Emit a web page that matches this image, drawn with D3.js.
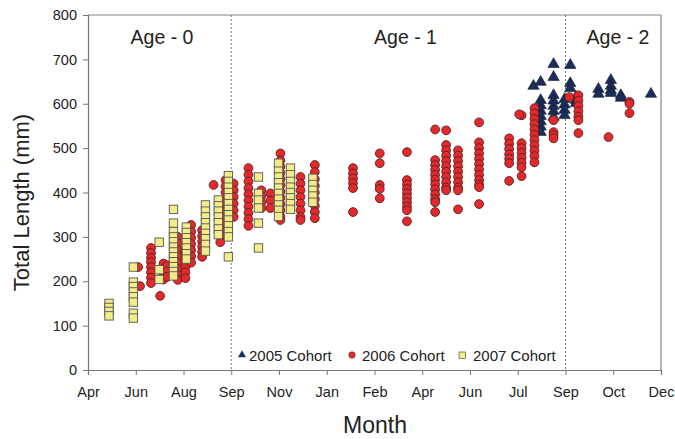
<!DOCTYPE html>
<html>
<head>
<meta charset="utf-8">
<script src="https://cdn.jsdelivr.net/npm/d3@7"></script>
<style>
  body { margin: 0; background: #fff; }
  svg text { font-family: "Liberation Sans", Arial, sans-serif; fill: #222; }
</style>
</head>
<body>
<svg id="chart" width="675" height="439"></svg>
<script>
// x is measured in tick steps from the first "Apr" tick
const monthLabels = ['Apr', 'Jun', 'Aug', 'Sep', 'Nov', 'Jan', 'Feb', 'Apr', 'Jun', 'Jul', 'Sep', 'Oct', 'Dec'];
const yTicks = [0, 100, 200, 300, 400, 500, 600, 700, 800];
const ageBreaks = [3, 10];
const ageLabels = [['Age - 0', 1.55], ['Age - 1', 6.65], ['Age - 2', 11.1]];

// [sample position, total lengths]
const cohort2005 = [
  [9.33, [640]],
  [9.48, [649, 608, 596, 584, 572, 560, 548, 536]],
  [9.75, [689, 660, 619, 607, 595, 583, 570]],
  [9.98, [610, 598, 586, 574]],
  [10.1, [687, 646, 635]],
  [10.22, [615, 608, 601]],
  [10.69, [633, 622]],
  [10.95, [653, 640, 630, 624]],
  [11.16, [619, 613]],
  [11.79, [622]]
];
const cohort2006 = [
  [1.05, [232]],
  [1.09, [189]],
  [1.32, [275, 264, 253, 243, 232, 220, 208, 196]],
  [1.51, [167]],
  [1.58, [240, 228, 216, 204]],
  [1.66, [236, 222, 210]],
  [1.88, [300, 285, 270, 256, 242, 228, 214, 203]],
  [2.04, [270, 258, 245, 232, 220, 207]],
  [2.16, [327, 312, 298, 284, 270, 256, 242]],
  [2.39, [315, 302, 290, 278, 266, 255]],
  [2.63, [417]],
  [2.77, [360, 345, 330, 316, 302, 288]],
  [2.88, [428, 414, 400, 386, 372, 358, 344, 331]],
  [3.05, [420, 405, 390, 375, 360, 345]],
  [3.36, [455, 440, 425, 410, 396, 382, 368, 354, 340, 325]],
  [3.63, [405, 392, 378, 365]],
  [3.82, [398, 382, 365]],
  [4.03, [488, 472, 458, 444, 430, 416, 402, 388, 374, 360, 346, 338]],
  [4.45, [435, 420, 405, 390, 375, 360, 345, 338]],
  [4.75, [462, 446, 430, 415, 400, 385, 370, 356, 342]],
  [5.55, [455, 443, 432, 421, 410, 356]],
  [6.11, [488, 466, 417, 408, 387]],
  [6.68, [491, 428, 418, 408, 398, 388, 378, 368, 360, 335]],
  [7.27, [542, 473, 462, 451, 440, 429, 418, 407, 396, 385, 378, 356]],
  [7.5, [540, 507, 495, 483, 471, 459, 447, 435, 423, 411, 405]],
  [7.75, [495, 483, 471, 459, 447, 435, 423, 411, 405, 362]],
  [8.19, [558, 513, 500, 488, 476, 464, 452, 440, 428, 418, 412, 374]],
  [8.82, [522, 510, 498, 486, 476, 466, 426]],
  [9.08, [574, 511, 500, 489, 478, 467, 457, 437]],
  [9.03, [576]],
  [9.35, [590, 578, 566, 554, 542, 530, 518, 506, 494, 482, 468]],
  [9.75, [563, 536, 529, 522]],
  [10.08, [615]],
  [10.27, [619, 607, 595, 583, 571, 563, 534]],
  [10.9, [525]],
  [11.34, [604, 600, 579]]
];
const cohort2007 = [
  [0.44, [150, 141, 132, 122]],
  [0.95, [232, 198, 188, 176, 165, 153, 128, 117]],
  [1.49, [288, 226, 204]],
  [1.79, [362, 331, 312, 300, 289, 277, 266, 255, 244, 233, 222, 212]],
  [2.06, [322, 310, 298, 287, 275, 262, 250]],
  [2.46, [372, 358, 345, 332, 320, 308, 296, 283, 268]],
  [2.73, [383, 370, 358, 345, 332, 318, 305]],
  [2.94, [438, 425, 412, 400, 388, 375, 362, 350, 338, 325, 312, 300, 255]],
  [3.57, [435, 398, 383, 365, 331, 275]],
  [3.99, [466, 448, 435, 422, 410, 398, 385, 372, 360, 346]],
  [4.24, [455, 440, 425, 412, 400, 388, 375, 362]],
  [4.71, [432, 418, 405, 392, 378]]
];

const margin = { top: 15, right: 14, bottom: 69, left: 88 };
const width = 675, height = 439;
const svg = d3.select('#chart');

const x = d3.scaleLinear().domain([0, 12]).range([margin.left, width - margin.right]);
const y = d3.scaleLinear().domain([0, 800]).range([height - margin.bottom, margin.top]);

const flat = groups => groups.flatMap(([t, lens]) => lens.map(v => ({ t, v })));

// frame
svg.append('line').attr('x1', x(0)).attr('x2', x(12)).attr('y1', y(800)).attr('y2', y(800))
  .attr('stroke', '#888').attr('stroke-width', 1.2);
svg.append('line').attr('x1', x(12)).attr('x2', x(12)).attr('y1', y(800)).attr('y2', y(0))
  .attr('stroke', '#888').attr('stroke-width', 1.2);

// age breaks
svg.selectAll('.brk').data(ageBreaks).enter().append('line')
  .attr('x1', d => x(d)).attr('x2', d => x(d)).attr('y1', y(800)).attr('y2', y(0))
  .attr('stroke', '#777').attr('stroke-width', 1).attr('stroke-dasharray', '2,2');

svg.selectAll('.age').data(ageLabels).enter().append('text')
  .attr('x', d => x(d[1])).attr('y', 44).attr('text-anchor', 'middle')
  .attr('font-size', 19.5).text(d => d[0]);

// axes
const xAxis = svg.append('g').attr('transform', `translate(0,${y(0)})`)
  .call(d3.axisBottom(x).tickValues(d3.range(13)).tickFormat(i => monthLabels[i]).tickSize(5).tickPadding(12));
const yAxis = svg.append('g').attr('transform', `translate(${x(0)},0)`)
  .call(d3.axisLeft(y).tickValues(yTicks).tickSize(5).tickPadding(6));
[xAxis, yAxis].forEach(a => {
  a.select('.domain').attr('stroke', '#777').attr('stroke-width', 1.2);
  a.selectAll('.tick line').attr('stroke', '#777');
  a.selectAll('.tick text').attr('font-size', 14.5).style('font-family', '"Liberation Sans", Arial, sans-serif').attr('fill', '#222');
});

svg.append('text').attr('transform', `translate(29,${(y(0) + y(800)) / 2 + 10}) rotate(-90)`)
  .attr('text-anchor', 'middle').attr('font-size', 22).text('Total Length (mm)');
svg.append('text').attr('x', 375).attr('y', 433)
  .attr('text-anchor', 'middle').attr('font-size', 23).text('Month');

// markers
const tri = d3.symbol().type(d3.symbolTriangle).size(56);
svg.append('g').selectAll('path').data(flat(cohort2005)).enter().append('path')
  .attr('d', tri).attr('transform', d => `translate(${x(d.t)},${y(d.v)})`)
  .attr('fill', '#1c2d5a').attr('stroke', '#111a33').attr('stroke-width', 0.6);

svg.append('g').selectAll('circle').data(flat(cohort2006)).enter().append('circle')
  .attr('cx', d => x(d.t)).attr('cy', d => y(d.v)).attr('r', 4.4)
  .attr('fill', '#e3292b').attr('stroke', '#5a2020').attr('stroke-width', 0.9);

svg.append('g').selectAll('rect').data(flat(cohort2007)).enter().append('rect')
  .attr('x', d => x(d.t) - 4.2).attr('y', d => y(d.v) - 4.2).attr('width', 8.4).attr('height', 8.4)
  .attr('fill', '#f4ec88').attr('stroke', '#555').attr('stroke-width', 0.9);

// legend
const legY = 355;
const leg = svg.append('g');
leg.append('path').attr('d', d3.symbol().type(d3.symbolTriangle).size(28))
  .attr('transform', `translate(242,${legY})`).attr('fill', '#1c2d5a');
leg.append('circle').attr('cx', 352).attr('cy', legY).attr('r', 3.2)
  .attr('fill', '#e3292b').attr('stroke', '#5a2020').attr('stroke-width', 0.6);
leg.append('rect').attr('x', 459).attr('y', legY - 3).attr('width', 6.5).attr('height', 6.5)
  .attr('fill', '#f4ec88').attr('stroke', '#555').attr('stroke-width', 0.7);
[['2005 Cohort', 249], ['2006 Cohort', 362], ['2007 Cohort', 473]].forEach(([t, lx]) => {
  leg.append('text').attr('x', lx).attr('y', legY + 5.5).attr('font-size', 15).text(t);
});
</script>
</body>
</html>
